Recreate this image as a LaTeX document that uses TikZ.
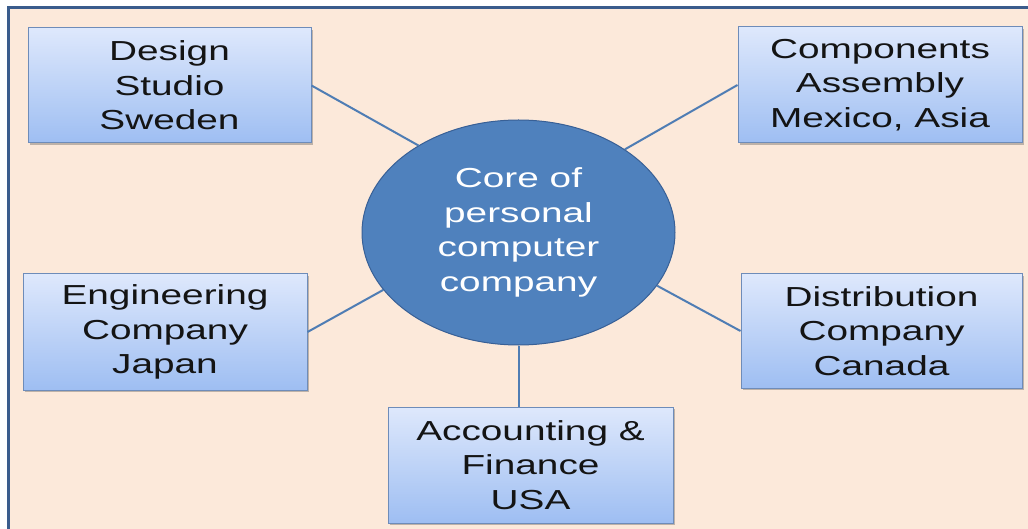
\documentclass[tikz,border=0pt]{standalone}
\usepackage{fontspec}
\setmainfont{Liberation Sans}
\newfontfamily\widefont[FakeStretch=1.41]{Liberation Sans}
\usetikzlibrary{shapes.geometric,shadows}
\definecolor{peach}{RGB}{252,233,218}
\definecolor{framecol}{RGB}{58,92,140}
\definecolor{linkcol}{RGB}{79,125,180}
\definecolor{boxtop}{RGB}{222,232,252}
\definecolor{boxbot}{RGB}{158,190,242}
\definecolor{boxedge}{RGB}{110,140,185}
\definecolor{corefill}{RGB}{79,129,189}
\definecolor{coreedge}{RGB}{56,96,150}
\definecolor{textcol}{RGB}{20,20,20}
\tikzset{
  box/.style={draw=boxedge, line width=1pt, top color=boxtop, bottom color=boxbot,
    inner sep=0pt, align=center, text=textcol,
    font=\widefont\fontsize{27.5}{34.5}\selectfont,
    drop shadow={shadow xshift=1.5pt, shadow yshift=-2pt, opacity=0.35, fill=black!70}},
  core/.style={ellipse, draw=coreedge, line width=1pt, fill=corefill, inner sep=0pt,
    minimum width=313pt, minimum height=225pt, align=center, text=white,
    font=\widefont\fontsize{27.5}{34.5}\selectfont},
  link/.style={draw=linkcol, line width=2pt},
  frameline/.style={draw=framecol, line width=3pt}
}
\begin{document}
\begin{tikzpicture}[x=1pt,y=-1pt]
\useasboundingbox (0,0) rectangle (1028,529);
\fill[peach] (8,8) rectangle (1040,540);
\draw[frameline] (8,540) -- (8,8) -- (1040,8);

\node[core] (core) at (518.5,232.5) {Core of\\personal\\computer\\company};

\node[box, minimum width=283pt, minimum height=115pt] (design) at (169.5,85.5) {Design\\Studio\\Sweden};
\node[box, minimum width=284pt, minimum height=116pt] (comp) at (880,85) {Components\\Assembly\\Mexico, Asia};
\node[box, minimum width=284pt, minimum height=116pt] (eng) at (165,332) {Engineering\\Company\\Japan};
\node[box, minimum width=281pt, minimum height=114pt] (dist) at (881.5,331) {Distribution\\Company\\Canada};
\node[box, minimum width=285pt, minimum height=116pt] (acc) at (530.5,465) {Accounting \&\\Finance\\USA};

\draw[link] (design.east) -- (core.139);
\draw[link] (comp.west) -- (core.38);
\draw[link] (eng.east) -- (core.203);
\draw[link] (dist.west) -- (core.339);
\coordinate (acctop) at (core.south |- acc.north);
\draw[link] (core.south) -- (acctop);
\end{tikzpicture}
\end{document}
